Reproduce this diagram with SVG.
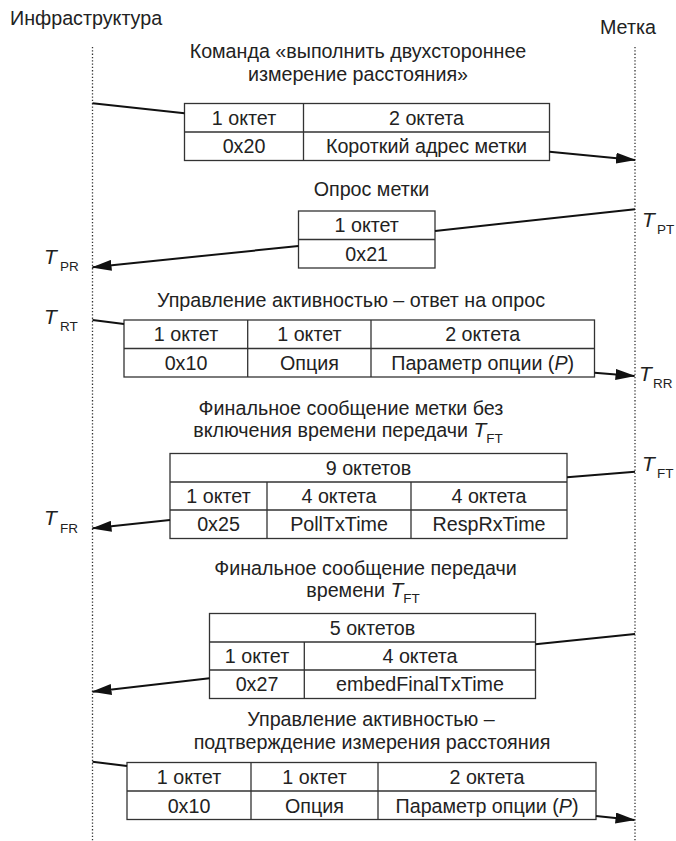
<svg xmlns="http://www.w3.org/2000/svg" width="676" height="841" viewBox="0 0 676 841">
<style>
.t{font-family:"Liberation Sans",Arial,sans-serif;font-size:19.7px;fill:#222}
.m{text-anchor:middle}
.i{font-style:italic}
.s{font-size:13.5px}
.L{font-size:21px}
.box{fill:#fff;stroke:#333;stroke-width:1.3}
.div{stroke:#333;stroke-width:1.3;fill:none}
.life{stroke:#333;stroke-width:1.3;stroke-dasharray:1.3 2}
.con{stroke:#111;stroke-width:2;fill:none}
.arr{marker-end:url(#ah)}
</style>
<defs>
<marker id="ah" markerUnits="userSpaceOnUse" markerWidth="20" markerHeight="11" refX="19" refY="5.5" orient="auto">
<path d="M0,0 L20,5.5 L0,11 z" fill="#111"/>
</marker>
</defs>
<rect width="676" height="841" fill="#fff"/>

<g id="infra">
<text class="t" x="10" y="25">Инфраструктура</text>
<line class="life" x1="92.5" y1="47" x2="92.5" y2="841"/>
<text class="t i L" x="44" y="264">T</text><text class="t s" x="60" y="271">PR</text>
<text class="t i L" x="44" y="324">T</text><text class="t s" x="60" y="331">RT</text>
<text class="t i L" x="44" y="525">T</text><text class="t s" x="60" y="533">FR</text>
</g>

<g id="tag">
<text class="t" x="600" y="34">Метка</text>
<line class="life" x1="635" y1="47" x2="635" y2="841"/>
<text class="t i L" x="642" y="227">T</text><text class="t s" x="657" y="234">PT</text>
<text class="t i L" x="639" y="381">T</text><text class="t s" x="653" y="388">RR</text>
<text class="t i L" x="642" y="471">T</text><text class="t s" x="657" y="478">FT</text>
</g>

<g id="msg1">
<text class="t m" x="358" y="58">Команда «выполнить двухстороннее</text>
<text class="t m" x="358" y="81">измерение расстояния»</text>
<rect class="box" x="184.5" y="103.5" width="365" height="57"/>
<path class="div" d="M184.5,132H549.5M303.5,103.5V160.5"/>
<text class="t m" x="244" y="124.5">1 октет</text>
<text class="t m" x="426.5" y="124.5">2 октета</text>
<text class="t m" x="244" y="153">0x20</text>
<text class="t m" x="426.5" y="153">Короткий адрес метки</text>
</g>

<g id="msg2">
<text class="t m" x="371.5" y="196">Опрос метки</text>
<rect class="box" x="298.5" y="211" width="136.5" height="57"/>
<path class="div" d="M298.5,239.5H435"/>
<text class="t m" x="366.7" y="232">1 октет</text>
<text class="t m" x="366.7" y="260.5">0x21</text>
</g>

<g id="msg3">
<text class="t m" x="351" y="306.5">Управление активностью – ответ на опрос</text>
<rect class="box" x="124" y="320" width="470.5" height="57"/>
<path class="div" d="M124,348.5H594.5M247.7,320V377M371,320V377"/>
<text class="t m" x="186" y="341">1 октет</text>
<text class="t m" x="309.4" y="341">1 октет</text>
<text class="t m" x="482.7" y="341">2 октета</text>
<text class="t m" x="186" y="369.5">0x10</text>
<text class="t m" x="309.4" y="369.5">Опция</text>
<text class="t m" x="482.7" y="369.5">Параметр опции (<tspan class="i">P</tspan>)</text>
</g>

<g id="msg4">
<text class="t m" x="351" y="415">Финальное сообщение метки без</text>
<text class="t m" x="348" y="437">включения времени передачи <tspan class="i L">T</tspan><tspan class="s" dy="6">FT</tspan></text>
<rect class="box" x="170" y="453.5" width="397" height="85"/>
<path class="div" d="M170,482H567M170,510H567M267,482V538.5M411,482V538.5"/>
<text class="t m" x="368.5" y="474.5">9 октетов</text>
<text class="t m" x="218.5" y="503">1 октет</text>
<text class="t m" x="339" y="503">4 октета</text>
<text class="t m" x="489" y="503">4 октета</text>
<text class="t m" x="218.5" y="531">0x25</text>
<text class="t m" x="339" y="531">PollTxTime</text>
<text class="t m" x="489" y="531">RespRxTime</text>
</g>

<g id="msg5">
<text class="t m" x="365.5" y="575">Финальное сообщение передачи</text>
<text class="t m" x="363" y="597">времени <tspan class="i L">T</tspan><tspan class="s" dy="6">FT</tspan></text>
<rect class="box" x="209.5" y="613.5" width="326" height="85"/>
<path class="div" d="M209.5,642H535.5M209.5,670H535.5M304.3,642V698.5"/>
<text class="t m" x="372.5" y="634.5">5 октетов</text>
<text class="t m" x="257" y="663">1 октет</text>
<text class="t m" x="420" y="663">4 октета</text>
<text class="t m" x="257" y="691">0x27</text>
<text class="t m" x="420" y="691">embedFinalTxTime</text>
</g>

<g id="msg6">
<text class="t m" x="371" y="726">Управление активностью –</text>
<text class="t m" x="372" y="748.5">подтверждение измерения расстояния</text>
<rect class="box" x="127" y="762.5" width="469" height="57"/>
<path class="div" d="M127,791H596M251,762.5V819.5M378,762.5V819.5"/>
<text class="t m" x="189" y="783.5">1 октет</text>
<text class="t m" x="314.5" y="783.5">1 октет</text>
<text class="t m" x="487" y="783.5">2 октета</text>
<text class="t m" x="189" y="812.5">0x10</text>
<text class="t m" x="314.5" y="812.5">Опция</text>
<text class="t m" x="487" y="812.5">Параметр опции (<tspan class="i">P</tspan>)</text>
</g>

<g id="connectors">
<line class="con" x1="92.5" y1="103.3" x2="184.5" y2="113.3"/>
<line class="con arr" x1="549.5" y1="151.7" x2="635" y2="160"/>
<line class="con" x1="635" y1="209.3" x2="435" y2="231"/>
<line class="con arr" x1="298.5" y1="246" x2="92.5" y2="267.3"/>
<line class="con" x1="92.5" y1="320" x2="124" y2="324"/>
<line class="con arr" x1="594.5" y1="372.7" x2="634.5" y2="376"/>
<line class="con" x1="635" y1="471.7" x2="567" y2="477.3"/>
<line class="con arr" x1="170" y1="520" x2="92.5" y2="528.3"/>
<line class="con" x1="635" y1="634" x2="535.5" y2="644.3"/>
<line class="con arr" x1="209.5" y1="678.3" x2="92.5" y2="691.7"/>
<line class="con" x1="92.5" y1="761.7" x2="127" y2="766"/>
<line class="con arr" x1="596" y1="816" x2="634.5" y2="820"/>
</g>
</svg>
